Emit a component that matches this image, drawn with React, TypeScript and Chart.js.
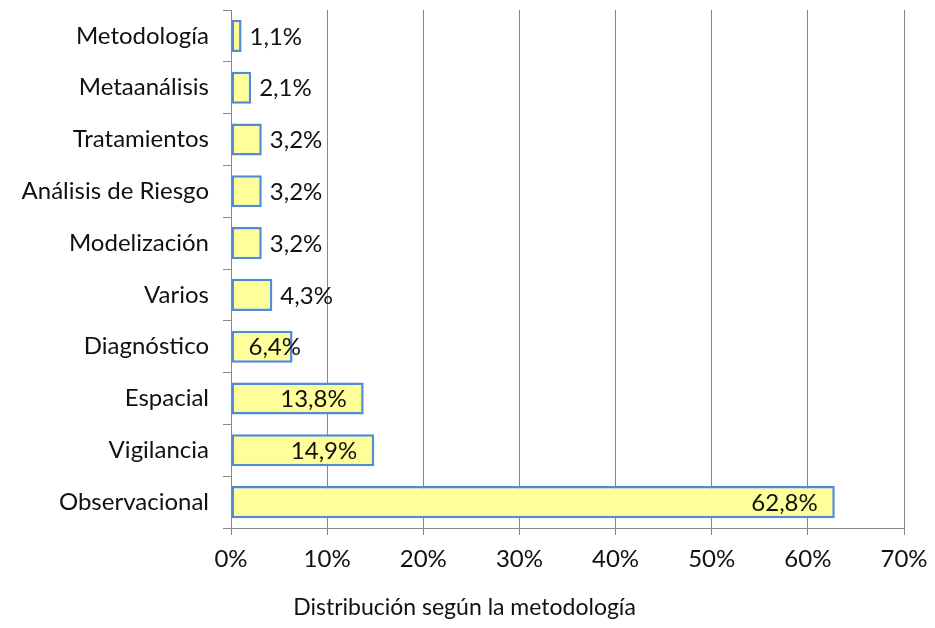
import React, { useEffect, useRef } from "react";
import { Chart, registerables } from "chart.js";

Chart.register(...registerables);

const categories = [
  "Metodología",
  "Metaanálisis",
  "Tratamientos",
  "Análisis de Riesgo",
  "Modelización",
  "Varios",
  "Diagnóstico",
  "Espacial",
  "Vigilancia",
  "Observacional",
];
const values = [1.1, 2.1, 3.2, 3.2, 3.2, 4.3, 6.4, 13.8, 14.9, 62.8];
const xTicks = [0, 10, 20, 30, 40, 50, 60, 70];
const axisTitle = "Distribución según la metodología";

const FONT = "Lato, 'Open Sans', sans-serif";
const FS = 24;

const labelPlugin = {
  id: "barLabels",
  afterDatasetsDraw(chart: any) {
    const { ctx } = chart;
    const meta = chart.getDatasetMeta(0);
    ctx.save();
    ctx.font = `${FS}px ${FONT}`;
    ctx.fillStyle = "#111";
    ctx.textBaseline = "middle";
    meta.data.forEach((bar: any, i: number) => {
      const v = values[i];
      const txt = v.toFixed(1).replace(".", ",") + "%";
      const w = ctx.measureText(txt).width;
      if (v >= 5) {
        ctx.textAlign = "right";
        const right = Math.max(bar.x - 17, bar.base + 17 + w);
        ctx.fillText(txt, right, bar.y + 1);
      } else {
        ctx.textAlign = "left";
        ctx.fillText(txt, bar.x + 8, bar.y + 1);
      }
    });
    ctx.restore();
  },
};

const titlePlugin = {
  id: "bottomTitle",
  afterDraw(chart: any) {
    const { ctx } = chart;
    ctx.save();
    ctx.font = `23px ${FONT}`;
    ctx.fillStyle = "#111";
    ctx.textAlign = "center";
    ctx.textBaseline = "middle";
    ctx.fillText(axisTitle, chart.width / 2 - 3, 608);
    ctx.restore();
  },
};

export default function App() {
  const ref = useRef<HTMLCanvasElement | null>(null);
  useEffect(() => {
    if (!ref.current) return;
    const chart = new Chart(ref.current, {
      type: "bar",
      data: {
        labels: categories,
        datasets: [
          {
            data: values,
            backgroundColor: "#FFFF99",
            borderColor: "#4F8BD6",
            borderWidth: 2.5,
            borderSkipped: false,
            barPercentage: 0.62,
            categoryPercentage: 1,
          },
        ],
      },
      options: {
        indexAxis: "y",
        animation: false,
        responsive: false,
        maintainAspectRatio: false,
        layout: { padding: { top: 10, right: 31, left: 0, bottom: 0 } },
        plugins: {
          legend: { display: false },
          tooltip: { enabled: false },
        },
        scales: {
          x: {
            min: 0,
            max: 70,
            afterBuildTicks: (s: any) => {
              s.ticks = xTicks.map((v) => ({ value: v }));
            },
            afterFit: (s: any) => {
              s.height = 100;
              s.paddingLeft = 0;
              s.paddingRight = 0;
            },
            grid: {
              color: "#888888",
              lineWidth: 1,
              tickLength: 7,
              drawTicks: true,
            },
            border: { color: "#888888", width: 1 },
            ticks: {
              font: { family: FONT, size: FS },
              color: "#111",
              padding: 10,
              maxRotation: 0,
              callback: (v: any) => v + "%",
            },
          },
          y: {
            afterFit: (s: any) => {
              s.width = 231;
              s.paddingTop = 0;
              s.paddingBottom = 0;
            },
            grid: {
              offset: true,
              drawOnChartArea: false,
              tickLength: 8,
              color: "#888888",
            },
            border: { color: "#888888", width: 1 },
            ticks: {
              font: { family: FONT, size: FS },
              color: "#111",
              padding: 14,
            },
          },
        },
      },
      plugins: [labelPlugin, titlePlugin],
    });
    return () => chart.destroy();
  }, []);
  return (
    <div style={{ position: "fixed", left: 0, top: 0, width: 935, height: 628, background: "#fff" }}>
      <canvas ref={ref} width={935} height={628} />
    </div>
  );
}
